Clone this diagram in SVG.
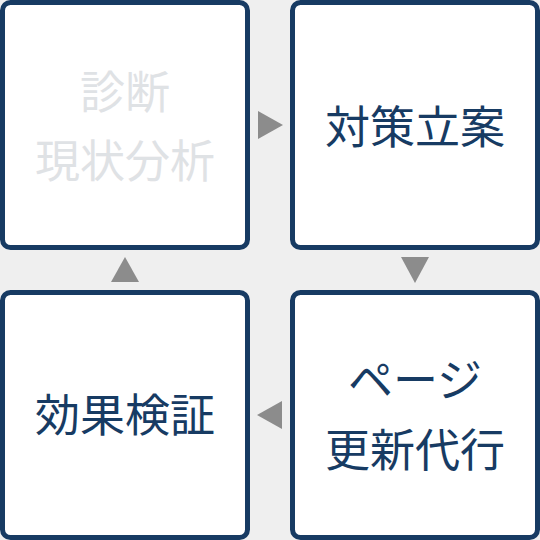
<svg xmlns="http://www.w3.org/2000/svg" width="540" height="540" viewBox="0 0 540 540">
<style>
.box{fill:#ffffff;stroke:#173b63;stroke-width:5}
.t{font-family:"Noto Sans CJK JP","Noto Sans CJK SC",sans-serif;font-size:45px;fill:#173b63;text-anchor:middle;dominant-baseline:central}
.faded{fill:#dfe2e5}
.arr{fill:#8c8c8c}
</style>
<rect width="540" height="540" fill="#efefef"/>
<g id="n1">
<rect class="box" x="2.5" y="2.5" width="245" height="245" rx="8"/>
<text class="t faded" x="125" y="89">診断</text>
<text class="t faded" x="125" y="158">現状分析</text>
</g>
<g id="n2">
<rect class="box" x="292.5" y="2.5" width="245" height="245" rx="8"/>
<text class="t" x="415" y="124">対策立案</text>
</g>
<g id="n3">
<rect class="box" x="292.5" y="292.5" width="245" height="245" rx="8"/>
<text class="t" x="415" y="377">ページ</text>
<text class="t" x="415" y="447">更新代行</text>
</g>
<g id="n4">
<rect class="box" x="2.5" y="292.5" width="245" height="245" rx="8"/>
<text class="t" x="125" y="412">効果検証</text>
</g>
<g id="connectors">
<polygon class="arr" points="258,111 283,125 258,139"/>
<polygon class="arr" points="401,257 429,257 415,283"/>
<polygon class="arr" points="282,401 282,429 257,415"/>
<polygon class="arr" points="111,282 139,282 125,257"/>
</g>
</svg>
